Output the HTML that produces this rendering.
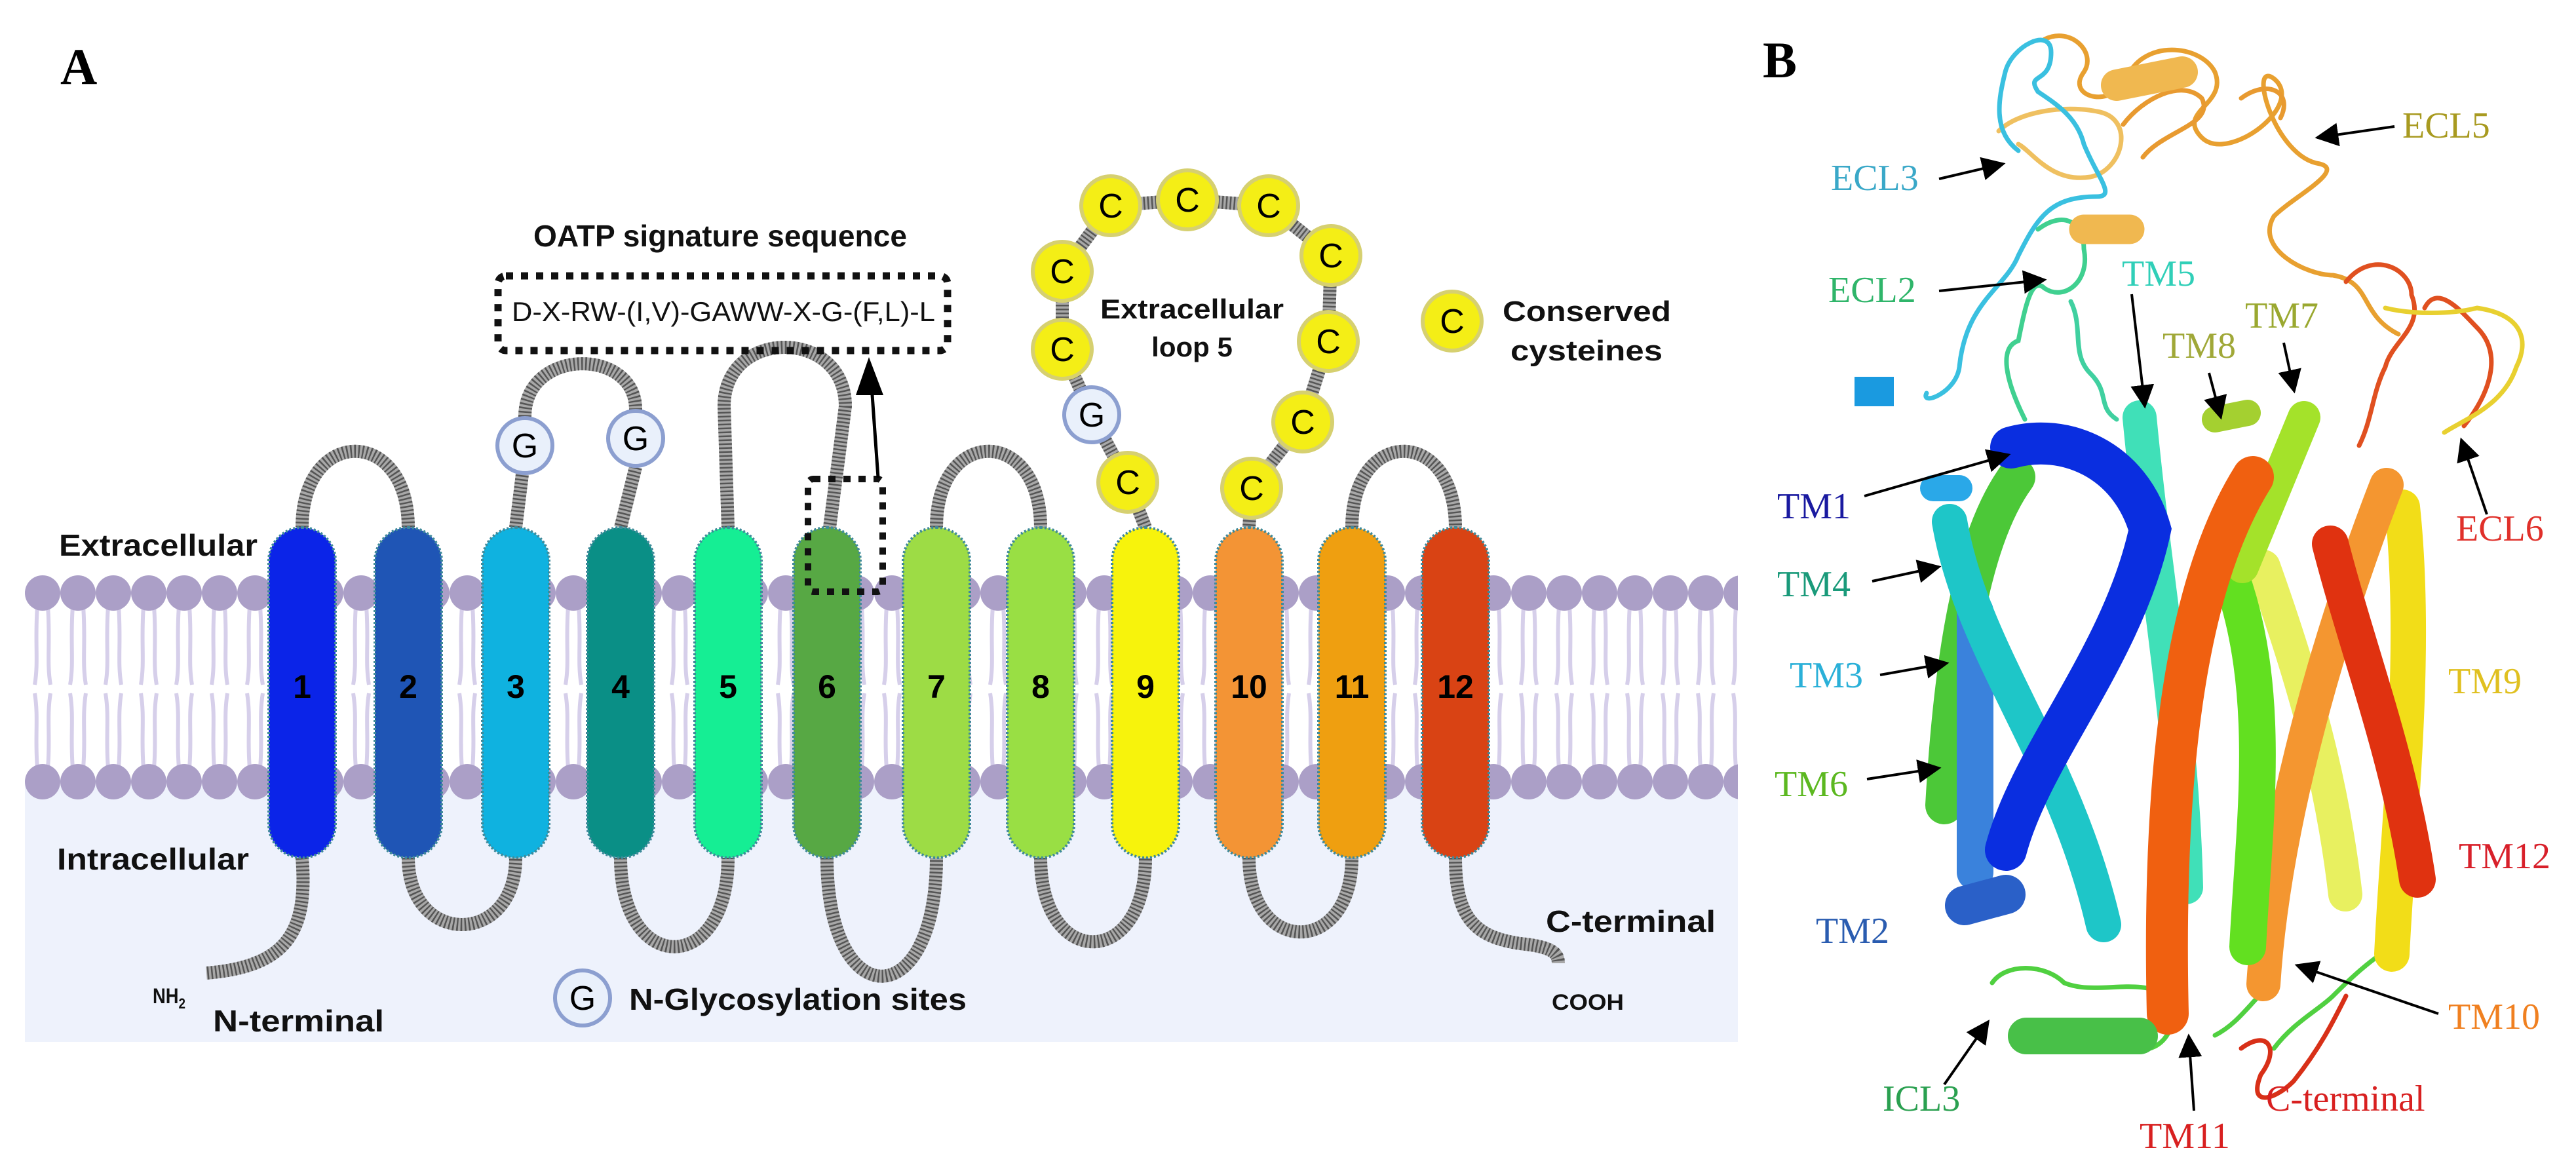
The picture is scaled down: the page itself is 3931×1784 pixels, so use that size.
<!DOCTYPE html>
<html><head><meta charset="utf-8"><style>
html,body{margin:0;padding:0;background:#fff;}
svg{display:block;}
</style></head><body>
<svg width="3931" height="1784" viewBox="0 0 3931 1784" xmlns="http://www.w3.org/2000/svg">
<defs>
<marker id="ah2" viewBox="0 0 10 10" refX="9" refY="5" markerWidth="9" markerHeight="9" orient="auto" markerUnits="strokeWidth"><path d="M0,0 L10,5 L0,10 Z" fill="#000"/></marker>
<pattern id="mem" patternUnits="userSpaceOnUse" x="38" y="870" width="54" height="360">
<path d="M19,55 C15,110 21,140 15,175 M35,55 C39,110 33,140 39,175 M15,188 C21,225 15,255 19,302 M39,188 C33,225 39,255 35,302" stroke="#d6cfea" stroke-width="6" fill="none"/>
<circle cx="27" cy="35" r="27" fill="#ab9fc7"/>
<circle cx="27" cy="323" r="27" fill="#ab9fc7"/>
</pattern>
</defs>
<rect width="3931" height="1784" fill="#fff"/>

<!-- Panel A -->
<text x="92" y="128" font-family="Liberation Serif, serif" font-weight="bold" font-size="78">A</text>
<rect x="38" y="1190" width="2614" height="400" fill="#eef2fc"/>
<rect x="38" y="870" width="2614" height="360" fill="url(#mem)"/>

<!-- loops -->
<g fill="none" stroke-linecap="butt">
<g stroke="#a8a8a8" stroke-width="20">
<path id="lp" d="M461,805 C461,650 623,650 623,805 M623,1309 C623,1445 787,1445 787,1309 M787,805 L797,724 M801,636 C801,530 970,530 970,625 M970,713 L947,805 M947,1309 C947,1490 1111,1490 1111,1309 M1111,805 L1105,620 C1105,500 1290,500 1290,620 L1266,805 M1262,1309 C1262,1550 1429,1550 1429,1309 M1429,805 C1429,650 1588,650 1588,805 M1588,1309 C1588,1480 1748,1480 1748,1309 M1748,805 L1721,736 L1666,633 L1621,533 L1621,414 L1695,314 L1812,305 L1936,314 L2031,390 L2027,521 L1988,644 L1910,745 L1906,805 M1906,1309 C1906,1460 2063,1460 2063,1309 M2063,805 C2063,650 2221,650 2221,805 M461,1309 C470,1420 440,1475 315,1485 M2221,1309 C2221,1400 2250,1430 2320,1440 C2370,1445 2378,1455 2378,1470"/>
</g>
<use href="#lp" stroke="#555" stroke-width="20" stroke-dasharray="2.5 3.5"/>
</g>

<!-- helices -->
<g stroke="#3f8a9a" stroke-width="4" stroke-dasharray="3 3">
<rect x="410" y="805" width="102" height="504" rx="51" fill="#0b24e8"/>
<rect x="572" y="805" width="102" height="504" rx="51" fill="#1f55b5"/>
<rect x="736" y="805" width="102" height="504" rx="51" fill="#0fb2e0"/>
<rect x="896" y="805" width="102" height="504" rx="51" fill="#0a8f86"/>
<rect x="1060" y="805" width="102" height="504" rx="51" fill="#15ee94"/>
<rect x="1211" y="805" width="102" height="504" rx="51" fill="#57a844"/>
<rect x="1378" y="805" width="102" height="504" rx="51" fill="#9ddc45"/>
<rect x="1537" y="805" width="102" height="504" rx="51" fill="#99df44"/>
<rect x="1697" y="805" width="102" height="504" rx="51" fill="#f7f30c"/>
<rect x="1855" y="805" width="102" height="504" rx="51" fill="#f39435"/>
<rect x="2012" y="805" width="102" height="504" rx="51" fill="#ef9f10"/>
<rect x="2170" y="805" width="102" height="504" rx="51" fill="#d94314"/>
</g>
<g font-family="Liberation Sans, sans-serif" font-weight="bold" font-size="50" fill="#000" text-anchor="middle">
<text x="461" y="1065">1</text><text x="623" y="1065">2</text><text x="787" y="1065">3</text><text x="947" y="1065">4</text>
<text x="1111" y="1065">5</text><text x="1262" y="1065">6</text><text x="1429" y="1065">7</text><text x="1588" y="1065">8</text>
<text x="1748" y="1065">9</text><text x="1906" y="1065">10</text><text x="2063" y="1065">11</text><text x="2221" y="1065">12</text>
</g>

<!-- G circles -->
<g stroke="#8c9fd0" stroke-width="6" fill="#e9f0fb">
<circle cx="801" cy="680" r="42"/><circle cx="970" cy="669" r="42"/><circle cx="1666" cy="633" r="42"/><circle cx="889" cy="1523" r="42"/>
</g>
<!-- C circles -->
<g stroke="#d6d070" stroke-width="6" fill="#f4ee16">
<circle cx="1721" cy="736" r="45"/><circle cx="1621" cy="533" r="45"/><circle cx="1621" cy="414" r="45"/><circle cx="1695" cy="314" r="45"/><circle cx="1812" cy="305" r="45"/><circle cx="1936" cy="314" r="45"/><circle cx="2031" cy="390" r="45"/><circle cx="2027" cy="521" r="45"/><circle cx="1988" cy="644" r="45"/><circle cx="1910" cy="745" r="45"/><circle cx="2216" cy="490" r="45"/>
</g>
<g font-family="Liberation Sans, sans-serif" font-size="52" fill="#000" text-anchor="middle">
<text x="801" y="698">G</text><text x="970" y="687">G</text><text x="1666" y="651">G</text><text x="889" y="1541">G</text>
<text x="1721" y="754">C</text><text x="1621" y="551">C</text><text x="1621" y="432">C</text><text x="1695" y="332">C</text><text x="1812" y="323">C</text><text x="1936" y="332">C</text><text x="2031" y="408">C</text><text x="2027" y="539">C</text><text x="1988" y="662">C</text><text x="1910" y="763">C</text><text x="2216" y="508">C</text>
</g>

<!-- dotted boxes -->
<rect x="760" y="421" width="686" height="114" rx="12" fill="none" stroke="#111" stroke-width="11" stroke-dasharray="11 12"/>
<rect x="1233" y="731" width="114" height="172" rx="8" fill="none" stroke="#111" stroke-width="10" stroke-dasharray="11 12"/>
<line x1="1340" y1="729" x2="1328" y2="560" stroke="#000" stroke-width="5"/>
<path d="M1326,545 L1348,603 L1306,603 Z" fill="#000"/>

<!-- Panel A text -->
<g font-family="Liberation Sans, sans-serif" font-weight="bold" fill="#111">
<text x="1099" y="376" font-size="46" text-anchor="middle" textLength="570" lengthAdjust="spacingAndGlyphs">OATP signature sequence</text>
<text x="90" y="848" font-size="46" textLength="303" lengthAdjust="spacingAndGlyphs">Extracellular</text>
<text x="87" y="1327" font-size="46" textLength="293" lengthAdjust="spacingAndGlyphs">Intracellular</text>
<text x="325" y="1574" font-size="46" textLength="261" lengthAdjust="spacingAndGlyphs">N-terminal</text>
<text x="233" y="1531" font-size="32" textLength="50" lengthAdjust="spacingAndGlyphs">NH<tspan font-size="22" dy="8">2</tspan></text>
<text x="960" y="1541" font-size="46" textLength="515" lengthAdjust="spacingAndGlyphs">N-Glycosylation sites</text>
<text x="2359" y="1422" font-size="46" textLength="259" lengthAdjust="spacingAndGlyphs">C-terminal</text>
<text x="2368" y="1541" font-size="34" textLength="110" lengthAdjust="spacingAndGlyphs">COOH</text>
<text x="1819" y="486" font-size="42" text-anchor="middle" textLength="280" lengthAdjust="spacingAndGlyphs">Extracellular</text>
<text x="1819" y="544" font-size="42" text-anchor="middle">loop 5</text>
<text x="2293" y="490" font-size="44" textLength="257" lengthAdjust="spacingAndGlyphs">Conserved</text>
<text x="2305" y="550" font-size="44" textLength="232" lengthAdjust="spacingAndGlyphs">cysteines</text>
</g>
<text x="781" y="490" font-family="Liberation Sans, sans-serif" font-size="42" fill="#111" textLength="646" lengthAdjust="spacingAndGlyphs">D-X-RW-(I,V)-GAWW-X-G-(F,L)-L</text>

<!-- Panel B -->
<text x="2690" y="118" font-family="Liberation Serif, serif" font-weight="bold" font-size="78">B</text>

<g fill="none" stroke-width="7" stroke-linecap="round">
<path d="M3120,60 C3160,40 3200,80 3180,110 C3150,150 3230,170 3250,110 C3280,60 3360,70 3380,110 C3400,160 3320,170 3360,210 C3400,250 3520,160 3470,120 C3430,90 3470,240 3540,250 C3580,260 3500,300 3470,330 C3440,380 3520,420 3560,420 C3620,430 3600,480 3660,510" stroke="#e8a030"/>
<path d="M3050,200 C3080,170 3150,160 3200,170 C3260,180 3240,260 3190,270 C3130,280 3100,230 3080,220" stroke="#efc060"/>
<path d="M3420,150 C3460,120 3500,140 3480,180 M3240,190 C3270,150 3330,120 3360,150 C3380,190 3300,200 3270,240" stroke="#e89a30"/>
<path d="M3080,230 C3040,200 3050,150 3060,110 C3070,70 3130,40 3130,80 C3130,130 3090,110 3110,140 C3140,160 3170,180 3180,220 C3200,270 3230,300 3200,300 C3130,300 3110,330 3080,390 C3060,440 3000,460 2990,560 C2985,600 2930,620 2940,600" stroke="#3ac0e0"/>
<path d="M3110,350 C3150,320 3180,340 3180,380 C3190,430 3150,460 3120,440 C3100,420 3090,470 3080,520 C3050,530 3060,580 3090,640" stroke="#40d090"/>
<path d="M3160,460 C3180,500 3160,540 3190,570 C3220,600 3200,620 3230,640" stroke="#40d0a0"/>
<path d="M3580,430 C3620,380 3680,410 3680,450 C3700,500 3650,520 3640,560 C3620,600 3620,640 3600,680 M3700,470 C3720,430 3760,480 3780,500 C3820,540 3800,600 3760,650" stroke="#e05020"/>
<path d="M3640,470 C3680,480 3740,480 3780,470 C3850,480 3860,520 3840,560 C3820,620 3760,640 3730,660" stroke="#e8d030"/>
<path d="M3040,1500 C3060,1470 3120,1470 3150,1500 C3200,1520 3260,1490 3310,1520 C3330,1560 3300,1610 3260,1600 M3380,1580 C3420,1560 3440,1520 3470,1500 M3470,1600 C3500,1560 3540,1540 3560,1520 C3580,1500 3620,1460 3660,1440" stroke="#50d040"/>
<path d="M3420,1600 C3460,1570 3480,1600 3450,1640 C3430,1690 3470,1680 3500,1650 C3540,1600 3560,1560 3580,1520" stroke="#d83018"/>
</g>

<g fill="none" stroke-linecap="round">
<path d="M3077,728 C3010,820 2980,1000 2967,1229" stroke="#4cc838" stroke-width="58"/>
<path d="M3014,933 L3014,1331" stroke="#3a82dc" stroke-width="56"/>
<path d="M2975,796 C3010,1000 3150,1150 3210,1411" stroke="#1ec6c8" stroke-width="54"/>
<path d="M3265,637 C3290,900 3330,1100 3336,1354" stroke="#40e0b8" stroke-width="52"/>
<path d="M3069,683 C3150,660 3250,700 3281,808 C3240,1000 3100,1150 3061,1297" stroke="#0a2ee0" stroke-width="64"/>
<path d="M3454,865 C3520,1050 3560,1200 3579,1365" stroke="#e8f060" stroke-width="52"/>
<path d="M3666,774 C3690,1000 3660,1250 3650,1456" stroke="#f2dd18" stroke-width="54"/>
<path d="M3642,740 C3560,950 3470,1250 3454,1502" stroke="#f49630" stroke-width="52"/>
<path d="M3399,865 C3470,1050 3440,1250 3430,1445" stroke="#62e020" stroke-width="56"/>
<path d="M3516,637 L3422,865" stroke="#a4e22a" stroke-width="50"/>
<path d="M3556,830 C3600,1000 3660,1150 3689,1342" stroke="#e03210" stroke-width="56"/>
<path d="M3438,728 C3330,900 3300,1200 3308,1547" stroke="#f06010" stroke-width="64"/>
<path d="M2998,1382 L3061,1365" stroke="#2a60c8" stroke-width="60"/>
<path d="M3092,1581 L3265,1581" stroke="#48c048" stroke-width="56"/>
<path d="M2860,575 L2860,620" stroke="#1a9ae0" stroke-width="60" stroke-linecap="butt"/>
<path d="M2950,745 L2990,745" stroke="#2aa8e8" stroke-width="40"/>
<path d="M3180,350 L3250,350" stroke="#f0b850" stroke-width="45"/>
<path d="M3230,130 L3330,110" stroke="#f0b850" stroke-width="48"/>
<path d="M3380,640 L3430,630" stroke="#a4d030" stroke-width="40"/>
</g>

<g stroke="#000" stroke-width="4" fill="none">
<line x1="2959" y1="273" x2="3057" y2="250" marker-end="url(#ah2)"/>
<line x1="3654" y1="193" x2="3536" y2="210" marker-end="url(#ah2)"/>
<line x1="2959" y1="444" x2="3120" y2="427" marker-end="url(#ah2)"/>
<line x1="3253" y1="449" x2="3273" y2="620" marker-end="url(#ah2)"/>
<line x1="3371" y1="569" x2="3389" y2="637" marker-end="url(#ah2)"/>
<line x1="3485" y1="523" x2="3501" y2="597" marker-end="url(#ah2)"/>
<line x1="2845" y1="757" x2="3065" y2="694" marker-end="url(#ah2)"/>
<line x1="3795" y1="785" x2="3756" y2="671" marker-end="url(#ah2)"/>
<line x1="2857" y1="887" x2="2959" y2="865" marker-end="url(#ah2)"/>
<line x1="2869" y1="1030" x2="2971" y2="1012" marker-end="url(#ah2)"/>
<line x1="2849" y1="1189" x2="2959" y2="1172" marker-end="url(#ah2)"/>
<line x1="3721" y1="1547" x2="3505" y2="1473" marker-end="url(#ah2)"/>
<line x1="2967" y1="1655" x2="3034" y2="1559" marker-end="url(#ah2)"/>
<line x1="3348" y1="1695" x2="3340" y2="1581" marker-end="url(#ah2)"/>
</g>

<g font-family="Liberation Serif, serif" font-size="56">
<text x="2794" y="290" fill="#3aa8c8">ECL3</text>
<text x="3666" y="210" fill="#a89a20">ECL5</text>
<text x="2790" y="461" fill="#2fb56a">ECL2</text>
<text x="3238" y="436" fill="#30cfb8">TM5</text>
<text x="3300" y="546" fill="#a0a838">TM8</text>
<text x="3426" y="500" fill="#9aa830">TM7</text>
<text x="2712" y="791" fill="#1a1aa0">TM1</text>
<text x="3748" y="825" fill="#e0302a">ECL6</text>
<text x="2712" y="910" fill="#1a9a7a">TM4</text>
<text x="2731" y="1049" fill="#2ab0d8">TM3</text>
<text x="3736" y="1058" fill="#e0c020">TM9</text>
<text x="2708" y="1215" fill="#5cb820">TM6</text>
<text x="3752" y="1325" fill="#d8202a">TM12</text>
<text x="2771" y="1439" fill="#2a5cb0">TM2</text>
<text x="3736" y="1570" fill="#f08020">TM10</text>
<text x="2873" y="1695" fill="#2aa050">ICL3</text>
<text x="3458" y="1695" fill="#d82020">C-terminal</text>
<text x="3265" y="1752" fill="#d82020">TM11</text>
</g>
</svg>
</body></html>
